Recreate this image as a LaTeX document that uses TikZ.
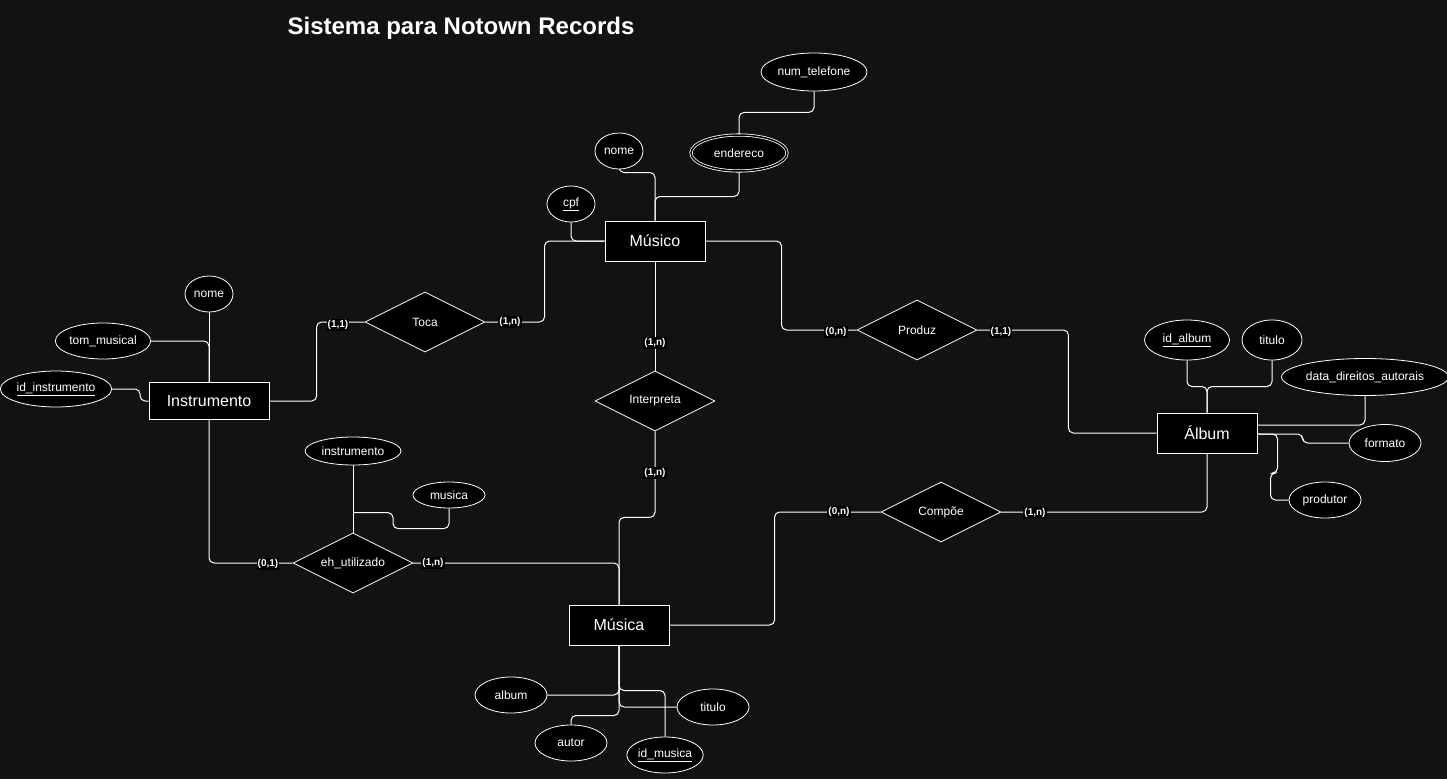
\documentclass[tikz,border=0pt]{standalone}
\usepackage{fontspec}
\setmainfont{Liberation Sans}
\usetikzlibrary{shapes.geometric,calc}
\definecolor{bgdark}{HTML}{121212}
\pgfdeclarelayer{backdrop}
\pgfdeclarelayer{wires}
\pgfsetlayers{backdrop,wires,main}

\begin{document}
\begin{tikzpicture}[x=1pt,y=-1pt,
  every node/.style={text=white},
  entity/.style={draw=white, fill=black, line width=1pt, minimum width=100pt,
    minimum height=40pt, inner sep=0pt, font=\fontsize{16}{18}\selectfont},
  rel/.style={diamond, aspect=2, draw=white, fill=black, line width=0.8pt, minimum width=120pt,
    minimum height=60pt, inner sep=0pt, font=\fontsize{12}{14}\selectfont},
  attr/.style={ellipse, draw=white, fill=black, line width=0.8pt, inner sep=0pt,
    font=\fontsize{12}{14}\selectfont},
  card/.style={fill=black, inner sep=1pt, font=\bfseries\fontsize{10}{12}\selectfont},
  link/.style={draw=white, line width=1pt, rounded corners=5pt}]

\begin{pgfonlayer}{backdrop}
  \fill[bgdark] (0,0) rectangle (1447,779);
\end{pgfonlayer}
\useasboundingbox (0,0) rectangle (1447,779);

% title
\node[font=\bfseries\fontsize{24}{28}\selectfont] (title) at (461,28) {Sistema para Notown Records};

% entities
\node[entity] (musico) at (655,241) {Músico};
\node[entity, minimum width=120pt, minimum height=37pt] (instr) at (209,401) {Instrumento};
\node[entity] (album) at (1207,433) {Álbum};
\node[entity] (musica) at (619,625) {Música};

% relationships
\node[rel] (toca) at (425,322) {Toca};
\node[rel] (interp) at (655,401) {Interpreta};
\node[rel] (produz) at (917,330) {Produz};
\node[rel] (compoe) at (941,512) {Compõe};
\node[rel] (ehut) at (353,563) {eh\_utilizado};

% attributes of Músico
\node[attr, minimum width=106pt, minimum height=38pt] (tel) at (814,72) {num\_telefone};
\node[attr, double=black, double distance=1.5pt, minimum width=96pt, minimum height=36pt] (ender) at (739,153) {endereco};
\node[attr, minimum width=48pt, minimum height=36pt] (mnome) at (619,151) {nome};
\node[attr, minimum width=48pt, minimum height=36pt] (cpf) at (571,204) {\underline{cpf}};

% attributes of Instrumento
\node[attr, minimum width=48pt, minimum height=36pt] (inome) at (209,294) {nome};
\node[attr, minimum width=84pt, minimum height=36pt] (tom) at (103,341) {tom\_musical};
\node[attr, minimum width=102pt, minimum height=36pt] (idinst) at (56,389) {\underline{id\_instrumento}};

% attributes of eh_utilizado
\node[attr, minimum width=96pt, minimum height=28pt] (ainst) at (353,451) {instrumento};
\node[attr, minimum width=72pt, minimum height=26pt] (amus) at (449,495) {musica};

% attributes of Álbum
\node[attr, minimum width=85pt, minimum height=40pt] (idalb) at (1187,340) {\underline{id\_album}};
\node[attr, minimum width=60pt, minimum height=40pt] (atit) at (1272,340) {titulo};
\node[attr, minimum width=152pt, minimum height=37pt] (dda) at (1365,377) {data\_direitos\_autorais};
\node[attr, minimum width=72pt, minimum height=37pt] (fmt) at (1385,443) {formato};
\node[attr, minimum width=72pt, minimum height=36pt] (prod) at (1325,500) {produtor};

% attributes of Música
\node[attr, minimum width=72pt, minimum height=36pt] (aalb) at (511,695) {album};
\node[attr, minimum width=72pt, minimum height=36pt] (aut) at (571,743) {autor};
\node[attr, minimum width=72pt, minimum height=36pt] (idmus) at (665,755) {\underline{id\_musica}};
\node[attr, minimum width=72pt, minimum height=36pt] (mtit) at (713,707) {titulo};

\begin{pgfonlayer}{wires}
  % Músico and its attributes
  \draw[link] (mnome.south) |- ($(musico.north)+(0,-48)$) -- (musico.north);
  \draw[link] (ender.south) |- ($(musico.north)+(0,-24)$) -- (musico.north);
  \draw[link] (ender.north) |- ($(tel.south)+(0,21)$) -- (tel.south);
  \draw[link] (cpf.south) |- (musico.west);

  % Toca
  \draw[link] (musico.west) -- ++(-60,0) |- (toca.east);
  \draw[link] (toca.west) -- ++(-48,0) |- (instr.east);

  % Interpreta
  \draw[link] (musico.south) -- (interp.north);
  \draw[link] (interp.south) -- ($(interp.south)+(0,86)$) -| (musica.north);

  % eh_utilizado
  \draw[link] (ehut.east) -| (musica.north);
  \draw[link] (ehut.west) -| (instr.south);
  \draw[link] (ainst.south) -- (ehut.north);
  \draw[link] (amus.south) |- ($(ehut.north)+(40,-4)$) |- ($(ehut.north)+(0,-20)$);

  % Instrumento attributes
  \draw[link] (inome.south) -- (instr.north);
  \draw[link] (tom.east) -| (instr.north);
  \draw[link] (idinst.east) -- ++(28,0) |- (instr.west);

  % Produz
  \draw[link] (musico.east) -- ++(76,0) |- (produz.west);
  \draw[link] (produz.east) -- ++(91,0) |- (album.west);

  % Compõe
  \draw[link] (compoe.east) -| (album.south);
  \draw[link] (compoe.west) -- ++(-106,0) |- (musica.east);

  % Álbum attributes
  \draw[link] (idalb.south) |- ($(album.north)+(0,-26)$) -- (album.north);
  \draw[link] (atit.south) |- ($(album.north)+(0,-26)$) -- (album.north);
  \draw[link] (dda.south) |- ($(album.east)+(0,-8)$);
  \draw[link] (fmt.west) -- ++(-46,0) |- ($(album.east)+(0,1)$);
  \draw[link] (prod.west) -| ($(album.east)+(13,40)$) -| ($(album.east)+(20,1)$) -- ($(album.east)+(0,1)$);

  % Música attributes
  \draw[link] (aalb.east) -| (musica.south);
  \draw[link] (aut.north) |- ($(musica.south)+(0,70)$) -- (musica.south);
  \draw[link] (idmus.north) |- ($(musica.south)+(0,45)$) -- (musica.south);
  \draw[link] (mtit.west) -| (musica.south);
\end{pgfonlayer}

% cardinalities
\node[card] (c1) at (510,322) {(1,n)};
\node[card] (c2) at (338,325) {(1,1)};
\node[card] (c3) at (655,343) {(1,n)};
\node[card] (c4) at (655,473) {(1,n)};
\node[card] (c5) at (268,564) {(0,1)};
\node[card] (c6) at (433,563) {(1,n)};
\node[card] (c7) at (836,332) {(0,n)};
\node[card] (c8) at (1001,332) {(1,1)};
\node[card] (c9) at (839,512) {(0,n)};
\node[card] (c10) at (1035,513) {(1,n)};

\end{tikzpicture}
\end{document}
